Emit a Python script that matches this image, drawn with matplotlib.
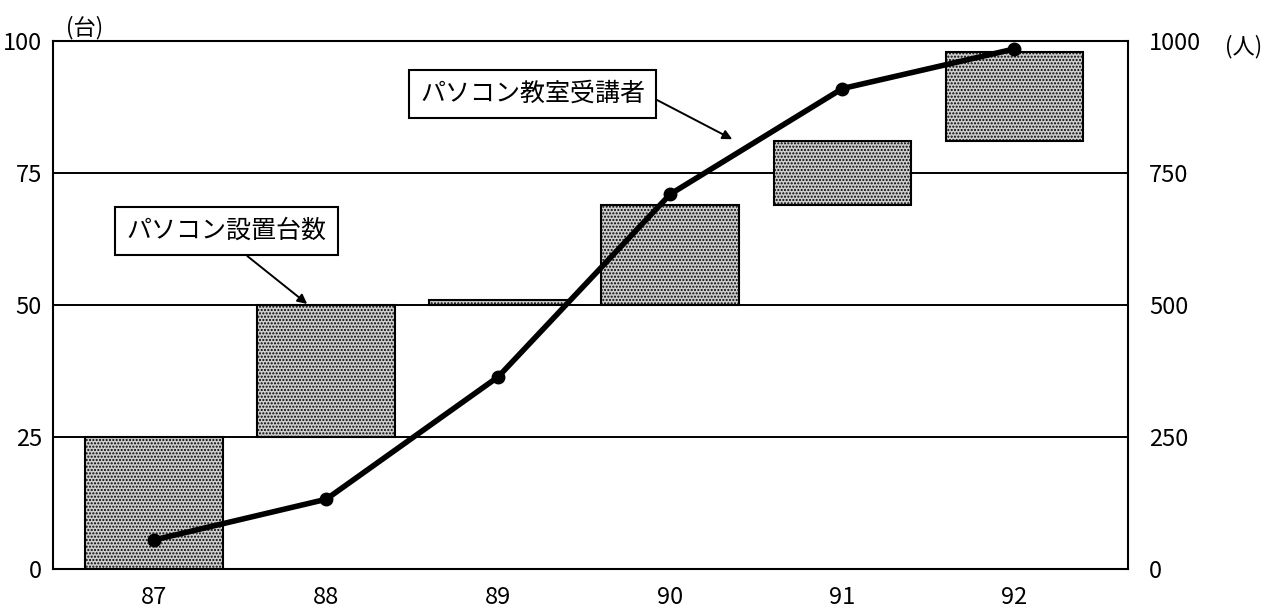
import matplotlib
matplotlib.use("Agg")
import matplotlib.pyplot as plt

plt.rcParams['font.family'] = ['Noto Sans CJK JP', 'DejaVu Sans']
plt.rcParams['hatch.color'] = '#707070'
plt.rcParams['hatch.linewidth'] = 1.0

years = ["87", "88", "89", "90", "91", "92"]
# installed PCs: each year's bar floats from the previous total to the new total (台)
pc_low = [0, 25, 50, 50, 69, 81]
pc_high = [25, 50, 51, 69, 81, 98]
# PC class attendees (人)
students = [55, 132, 364, 710, 910, 985]

left_ticks = [0, 25, 50, 75, 100]
right_ticks = [0, 250, 500, 750, 1000]

fig = plt.figure(figsize=(12.87, 6.13), dpi=100)
ax = fig.add_axes([0.0412, 0.0718, 0.8353, 0.8613])

x = list(range(len(years)))
heights = [h - l for l, h in zip(pc_low, pc_high)]
ax.bar(x, heights, bottom=pc_low, width=0.8, color='#cdcdcd',
       edgecolor='black', linewidth=1.5, hatch='.....', zorder=3)

for y in left_ticks[1:-1]:
    ax.axhline(y, color='black', linewidth=1.4, zorder=2)

ax.set_xlim(-0.587, 5.66)
ax.set_ylim(0, 100)
ax.set_yticks(left_ticks)
ax.set_xticks(x)
ax.set_xticklabels(years)
ax.tick_params(axis='y', length=0, pad=8, labelsize=17)
ax.tick_params(axis='x', length=0, pad=12, labelsize=17)
for s in ax.spines.values():
    s.set_linewidth(1.5)

ax2 = ax.twinx()
ax2.plot(x, students, color='black', linewidth=4, marker='o', markersize=9,
         zorder=5)
ax2.set_ylim(0, 1000)
ax2.set_yticks(right_ticks)
ax2.tick_params(axis='y', length=0, pad=15, labelsize=17)
for s in ax2.spines.values():
    s.set_visible(False)

ax.text(0.012, 1.003, "(台)", transform=ax.transAxes, fontsize=16,
        ha='left', va='bottom')
ax2.text(1.09, 0.99, "(人)", transform=ax2.transAxes, fontsize=16,
         ha='left', va='center')

box = dict(boxstyle='square,pad=0.45', facecolor='white', edgecolor='black',
           linewidth=1.5)
arrow = dict(arrowstyle='-|>', color='black', linewidth=1.4, mutation_scale=14,
             shrinkA=0, shrinkB=0)

ax.annotate("パソコン教室受講者", xy=(3.36, 81.4), xytext=(2.2, 90),
            fontsize=18, ha='center', va='center', bbox=box, zorder=6,
            arrowprops=dict(arrow, relpos=(1.0, 0.5)))
ax.annotate("パソコン設置台数", xy=(0.89, 50.2), xytext=(0.42, 64),
            fontsize=18, ha='center', va='center', bbox=box, zorder=6,
            arrowprops=dict(arrow, relpos=(0.53, 0.0)))

fig.savefig("out.png", dpi=100)
